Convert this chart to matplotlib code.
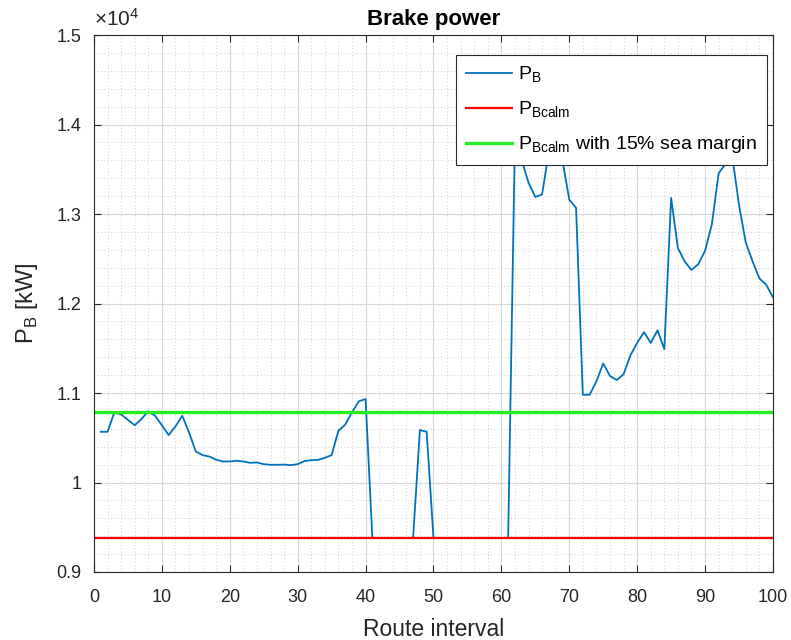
import matplotlib
matplotlib.use("Agg")
import matplotlib.pyplot as plt
from matplotlib.ticker import MultipleLocator, FuncFormatter

plt.rcParams['font.family'] = ['Liberation Sans', 'DejaVu Sans']
plt.rcParams['mathtext.fontset'] = 'custom'
plt.rcParams['mathtext.rm'] = 'Liberation Sans'

# route interval index
interval = list(range(1, 101))

# brake power P_B [kW]
p_b = [
    10567, 10567, 10784, 10760, 10700, 10640, 10710, 10795, 10746, 10640,
    10530, 10627, 10746, 10560, 10347, 10306, 10290, 10254, 10235, 10235,
    10243, 10235, 10220, 10224, 10205, 10198, 10198, 10200, 10194, 10205,
    10239, 10250, 10252, 10276, 10306, 10578, 10646, 10784, 10907, 10933,
    9380, 9380, 9380, 9380, 9380, 9380, 9380, 10586, 10567, 9380,
    9380, 9380, 9380, 9380, 9380, 9380, 9380, 9380, 9380, 9380,
    9380, 13850, 13600, 13350, 13190, 13220, 13700, 13850, 13600, 13160,
    13070, 10980, 10980, 11130, 11330, 11190, 11145, 11210, 11420, 11560,
    11680, 11560, 11700, 11490, 13180, 12620, 12470, 12375, 12440, 12590,
    12885, 13455, 13560, 13650, 13100, 12680, 12470, 12280, 12210, 12070,
]

p_bcalm = 9380
sea_margin = 1.15

fig = plt.figure(figsize=(7.91, 6.4), dpi=100)
ax = fig.add_axes([0.1188, 0.10625, 0.8584, 0.839])

ax.plot(interval, p_b, color='#0072BD', lw=1.3, label=r'P$_\mathrm{B}$')
ax.plot([0, 100], [p_bcalm, p_bcalm], color='#FF0000', lw=1.6,
        label=r'P$_\mathrm{Bcalm}$')
ax.plot([0, 100], [p_bcalm * sea_margin] * 2, color='#22EE22', lw=2.4,
        label=r'P$_\mathrm{Bcalm}$ with 15% sea margin')

ax.set_xlim(0, 100)
ax.set_ylim(9000, 15000)
ax.xaxis.set_major_locator(MultipleLocator(10))
ax.xaxis.set_minor_locator(MultipleLocator(2))
ax.yaxis.set_major_locator(MultipleLocator(1000))
ax.yaxis.set_minor_locator(MultipleLocator(200))
ax.yaxis.set_major_formatter(FuncFormatter(lambda v, p: f'{v / 1e4:g}'))

ax.grid(which='major', color='#d9d9d9', lw=0.8)
ax.grid(which='minor', color='#c0c0c0', lw=0.6, ls=(0, (1, 3)))
ax.set_axisbelow(True)

ax.tick_params(which='major', direction='in', length=5, top=True, right=True,
               labelsize=13, colors='#262626', width=0.8)
ax.tick_params(axis='x', which='major', pad=12)
ax.tick_params(axis='y', which='major', pad=9)
ax.tick_params(which='minor', length=0)
for s in ax.spines.values():
    s.set_color('#262626')
    s.set_linewidth(0.8)

ax.set_xlabel('Route interval', fontsize=16.5, color='#262626', labelpad=9)
ax.set_ylabel(r'P$_\mathrm{B}$ [kW]', fontsize=17, color='#262626', labelpad=12)
ax.set_title('Brake power', fontsize=16, fontweight='bold', pad=7)
ax.text(0.0, 1.01, r'$\times\mathregular{10^4}$', transform=ax.transAxes,
        fontsize=15, color='#262626', va='bottom', ha='left')

leg = ax.legend(loc='upper right', bbox_to_anchor=(0.991, 0.963), fontsize=14,
                fancybox=False, framealpha=1, edgecolor='#262626',
                handlelength=2.4, handletextpad=0.3, borderpad=0.5,
                labelspacing=0.75, borderaxespad=0)
leg.get_frame().set_linewidth(0.8)

fig.savefig('out.png', dpi=100)
